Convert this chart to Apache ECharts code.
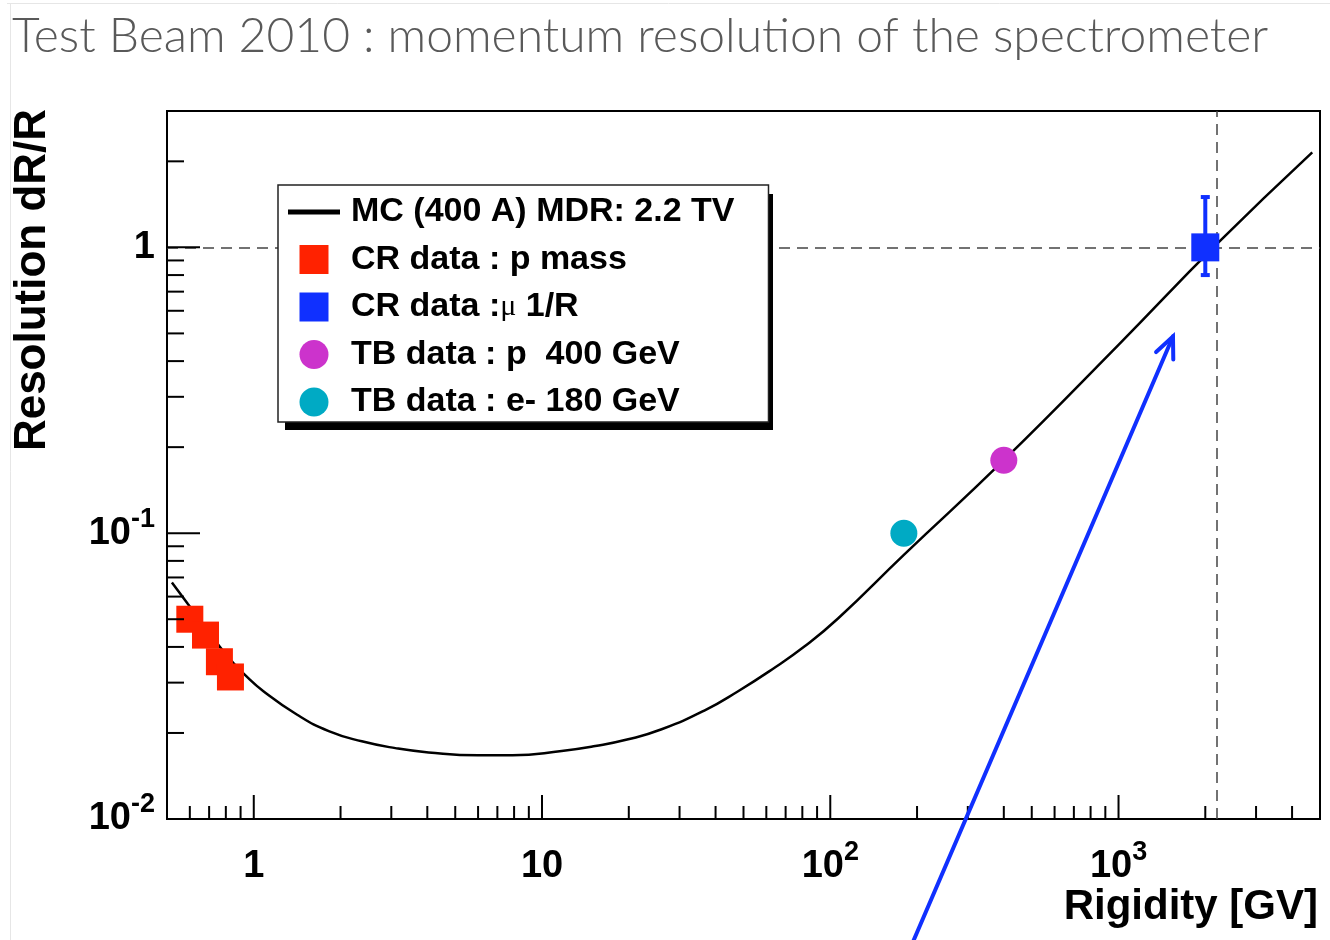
<!DOCTYPE html>
<html><head><meta charset="utf-8">
<script src="https://cdn.jsdelivr.net/npm/echarts@6/dist/echarts.min.js"></script>
<style>html,body{margin:0;padding:0;background:#fff}#c{width:1330px;height:940px}</style>
</head><body><div id="c"></div>
<script>
// ---- data ----
const titleText = 'Test Beam 2010 : momentum resolution of the spectrometer';
const xName = 'Rigidity [GV]';
const yName = 'Resolution dR/R';
const seriesNames = ['MC (400 A) MDR: 2.2 TV', 'CR data : p mass', 'CR data :μ 1/R', 'TB data : p  400 GeV', 'TB data : e- 180 GeV'];

const mcRigidity   = [0.52, 0.59, 0.76, 0.84, 0.93, 1.08, 1.41, 1.82, 2.37, 3.1, 4.04, 6.0, 7.9, 11.7, 15.3, 19.9, 26.0, 36.7, 47.9, 62.6, 81.5, 106.6, 180, 400, 1000, 2200, 4700];
const mcResolution = [0.0672, 0.0566, 0.0402, 0.0356, 0.0320, 0.0280, 0.0232, 0.0203, 0.0187, 0.0177, 0.0171, 0.0167, 0.0167, 0.0173, 0.0180, 0.0190, 0.0206, 0.0240, 0.0280, 0.0333, 0.0402, 0.0504, 0.0840, 0.180, 0.456, 1.03, 2.15];

const crMassRigidity   = [0.60, 0.68, 0.76, 0.83];
const crMassResolution = [0.050, 0.044, 0.0355, 0.0314];

const crMuRigidity   = [2000];
const crMuResolution = [1.0];
const crMuErrLow  = [0.80];
const crMuErrHigh = [1.50];

const tbProtonRigidity = [400];
const tbProtonResolution = [0.18];
const tbElectronRigidity = [180];
const tbElectronResolution = [0.10];

const mdrRigidity = [2200];
const unitResolution = [1];

const xRange = [0.5, 5000];
const yRange = [0.01, 3];
const xMajorTicks = [1, 10, 100, 1000];
const xMinorTicks = [0.6, 0.7, 0.8, 0.9, 2, 3, 4, 5, 6, 7, 8, 9, 20, 30, 40, 50, 60, 70, 80, 90, 200, 300, 400, 500, 600, 700, 800, 900, 2000, 3000, 4000];
const yMajorTicks = [0.01, 0.1, 1];
const yMinorTicks = [0.02, 0.03, 0.04, 0.05, 0.06, 0.07, 0.08, 0.09, 0.2, 0.3, 0.4, 0.5, 0.6, 0.7, 0.8, 0.9, 2];
const xTickBase = ['1', '10', '10', '10'];
const xTickExp  = ['', '', '2', '3'];
const yTickBase = ['10', '10', '1'];
const yTickExp  = ['-2', '-1', ''];

const arrowStart = [191, 0.0036];
const arrowEnd = [1545, 0.488];

// ---- chart ----
const FONT = '"Liberation Sans", Arial, Helvetica, sans-serif';
const chart = echarts.init(document.getElementById('c'), null, {renderer: 'canvas'});

function findTick(value, ticks) {
  for (let i = 0; i < ticks.length; i++) {
    if (Math.abs(Math.log10(value) - Math.log10(ticks[i])) < 1e-6) return i;
  }
  return -1;
}
function labelFmt(ticks, base, exp) {
  return function (v) {
    const i = findTick(v, ticks);
    if (i < 0) return '';
    return '{b|' + base[i] + '}' + (exp[i] ? '{s|' + exp[i] + '}' : '');
  };
}
const labelRich = {
  b: {fontFamily: FONT, fontWeight: 'bold', fontSize: 38, lineHeight: 55, color: '#000'},
  s: {fontFamily: FONT, fontWeight: 'bold', fontSize: 27, lineHeight: 27, padding: [0, 0, 28, 0], color: '#000'}
};

function tickSeries(values, isX, major) {
  return {
    type: 'custom', silent: true, z: 6, animation: false,
    data: values.map(v => isX ? [v, yRange[0]] : [xRange[0], v]),
    renderItem: function (params, api) {
      const p = api.coord([api.value(0), api.value(1)]);
      const len = isX ? (major ? 24 : 13) : (major ? 33 : 17);
      const shape = isX ? {x1: p[0], y1: p[1], x2: p[0], y2: p[1] - len}
                        : {x1: p[0], y1: p[1], x2: p[0] + len, y2: p[1]};
      return {type: 'line', shape: shape, style: {stroke: '#000', lineWidth: 2}};
    }
  };
}

const BLUE = '#1030ff';
const squarePath = 'path://M0,0L29,0L29,29L0,29Z';
const linePath = 'path://M0,0L0,0M0,12L52,12L52,17L0,17ZM52,29L52,29';

const option = {
  animation: false,
  backgroundColor: '#fff',
  title: {
    text: titleText, left: 12, top: 13, padding: 0,
    textStyle: {fontFamily: 'Lato', fontWeight: 300, fontSize: 48, color: '#595959'}
  },
  grid: {left: 167, right: 10, top: 111, bottom: 121, show: true, borderColor: '#000', borderWidth: 2,
         backgroundColor: '#fff', containLabel: false, outerBoundsMode: 'none'},
  xAxis: {
    type: 'log', logBase: 10, min: xRange[0], max: xRange[1],
    axisLine: {show: false}, axisTick: {show: false}, splitLine: {show: false}, minorTick: {show: false},
    axisLabel: {show: true, margin: 20, formatter: labelFmt(xMajorTicks, xTickBase, xTickExp), rich: labelRich, color: '#000'},
    name: xName, nameLocation: 'end', nameGap: -2, nameMoveOverlap: false,
    nameTextStyle: {fontFamily: FONT, fontWeight: 'bold', fontSize: 42, lineHeight: 42, color: '#000',
                    align: 'right', verticalAlign: 'top', padding: [67, 0, 0, 0]}
  },
  yAxis: {
    type: 'log', logBase: 10, min: yRange[0], max: yRange[1],
    axisLine: {show: false}, axisTick: {show: false}, splitLine: {show: false}, minorTick: {show: false},
    axisLabel: {show: true, margin: 12, formatter: labelFmt(yMajorTicks, yTickBase, yTickExp), rich: labelRich, color: '#000'}
  },
  legend: {
    orient: 'vertical', left: 278, top: 185, z: 5,
    padding: [7, 34, 0, 10], itemGap: 7.5, itemWidth: 52, itemHeight: 29,
    backgroundColor: '#fff', borderColor: '#222', borderWidth: 1.5,
    selectedMode: false, symbolKeepAspect: true,
    itemStyle: {borderWidth: 0},
    textStyle: {fontFamily: FONT, fontWeight: 'bold', fontSize: 34, lineHeight: 40, color: '#000', padding: [0, 0, 0, 6],
                rich: {mu: {fontFamily: '"Liberation Serif", "DejaVu Serif", serif', fontWeight: 'normal', fontSize: 30, color: '#000'}}},
    formatter: function (name) { return name.replace('μ', '{mu|μ}'); },
    data: [
      {name: seriesNames[0], icon: linePath},
      {name: seriesNames[1], icon: squarePath},
      {name: seriesNames[2], icon: squarePath},
      {name: seriesNames[3], icon: 'circle'},
      {name: seriesNames[4], icon: 'circle'}
    ]
  },
  series: [
    {
      name: seriesNames[0], type: 'line', color: '#000', z: 3,
      data: mcRigidity.map((x, i) => [x, mcResolution[i]]),
      showSymbol: false, symbol: 'none', smooth: true,
      lineStyle: {color: '#000', width: 2.5},
      itemStyle: {color: '#000'},
      markLine: {
        silent: true, symbol: ['none', 'none'], label: {show: false}, animation: false, z: 2,
        lineStyle: {color: '#444', width: 1.5, type: [11, 7]},
        data: [{yAxis: unitResolution[0]}, {xAxis: mdrRigidity[0]}]
      }
    },
    {
      name: seriesNames[1], type: 'scatter', symbol: 'rect', symbolSize: 27, z: 5,
      itemStyle: {color: '#ff2200', opacity: 1},
      data: crMassRigidity.map((x, i) => [x, crMassResolution[i]])
    },
    {
      name: 'errbar', type: 'custom', z: 4, silent: true,
      data: crMuRigidity.map((x, i) => [x, crMuErrLow[i], crMuErrHigh[i]]),
      encode: {x: 0, y: [1, 2]},
      renderItem: function (params, api) {
        const lo = api.coord([api.value(0), api.value(1)]);
        const hi = api.coord([api.value(0), api.value(2)]);
        const st = {stroke: BLUE, lineWidth: 4};
        return {type: 'group', children: [
          {type: 'line', shape: {x1: lo[0], y1: lo[1], x2: hi[0], y2: hi[1]}, style: st},
          {type: 'line', shape: {x1: hi[0] - 4.5, y1: hi[1], x2: hi[0] + 4.5, y2: hi[1]}, style: st},
          {type: 'line', shape: {x1: lo[0] - 4.5, y1: lo[1], x2: lo[0] + 4.5, y2: lo[1]}, style: st}
        ]};
      }
    },
    {
      name: seriesNames[2], type: 'scatter', symbol: 'rect', symbolSize: 28, z: 5,
      itemStyle: {color: BLUE, opacity: 1},
      data: crMuRigidity.map((x, i) => [x, crMuResolution[i]])
    },
    {
      name: seriesNames[3], type: 'scatter', symbol: 'circle', symbolSize: 27, z: 5,
      itemStyle: {color: '#cc33cc', opacity: 1},
      data: tbProtonRigidity.map((x, i) => [x, tbProtonResolution[i]])
    },
    {
      name: seriesNames[4], type: 'scatter', symbol: 'circle', symbolSize: 27, z: 5,
      itemStyle: {color: '#00aac4', opacity: 1},
      data: tbElectronRigidity.map((x, i) => [x, tbElectronResolution[i]])
    },
    tickSeries(xMajorTicks, true, true),
    tickSeries(xMinorTicks, true, false),
    tickSeries(yMajorTicks, false, true),
    tickSeries(yMinorTicks, false, false)
  ]
};
chart.setOption(option);

// annotation arrow + y-axis title + legend shadow + slide frame
const p0 = chart.convertToPixel({gridIndex: 0}, arrowStart);
const p1 = chart.convertToPixel({gridIndex: 0}, arrowEnd);
const dx = p0[0] - p1[0], dy = p0[1] - p1[1];
const L = Math.hypot(dx, dy), ux = dx / L, uy = dy / L;
const ang = 24 * Math.PI / 180, hl = 23;
function rot(x, y, a) { return [x * Math.cos(a) - y * Math.sin(a), x * Math.sin(a) + y * Math.cos(a)]; }
const a1 = rot(ux, uy, ang), a2 = rot(ux, uy, -ang);

chart.setOption({
  graphic: [
    {type: 'line', z: 0, shape: {x1: 7, y1: 3.5, x2: 1330, y2: 3.5}, style: {stroke: '#e6e6e6', lineWidth: 1}},
    {type: 'line', z: 0, shape: {x1: 10.5, y1: 3.5, x2: 10.5, y2: 940}, style: {stroke: '#e6e6e6', lineWidth: 1}},
    {type: 'rect', z: 4, shape: {x: 285, y: 194, width: 488, height: 236}, style: {fill: '#000'}},
    {type: 'text', x: 33, y: 280, rotation: Math.PI / 2,
     style: {text: yName, font: 'bold 44px ' + FONT, fill: '#000', align: 'center', verticalAlign: 'middle'}},
    {type: 'polyline', z: 100, shape: {points: [p0, p1]}, style: {stroke: BLUE, lineWidth: 4, fill: null, lineCap: 'round'}},
    {type: 'polyline', z: 100, shape: {points: [[p1[0] + a1[0] * hl, p1[1] + a1[1] * hl], p1, [p1[0] + a2[0] * hl, p1[1] + a2[1] * hl]]},
     style: {stroke: BLUE, lineWidth: 4, fill: null, lineCap: 'round', lineJoin: 'miter'}}
  ]
});
</script>
</body></html>
